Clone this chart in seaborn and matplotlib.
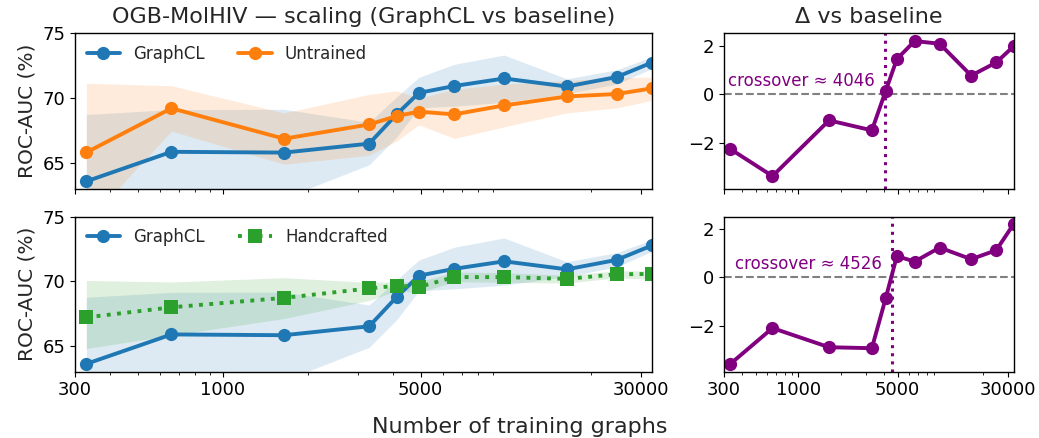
import numpy as np
import matplotlib
matplotlib.use("Agg")
import matplotlib.pyplot as plt
import seaborn as sns
from matplotlib.ticker import NullFormatter

# ---- data ----
n_train = [329, 658, 1645, 3290, 4113, 4935, 6580, 9870, 16450, 24676, 32901]

graphcl = [63.59, 65.87, 65.81, 66.50, 68.76, 70.42, 70.95, 71.53, 70.91, 71.64, 72.76]
graphcl_lo = [58.4, 62.6, 62.3, 64.87, 67.0, 69.25, 69.4, 69.68, 70.35, 71.1, 72.3]
graphcl_hi = [68.75, 69.13, 69.15, 68.15, 70.1, 71.63, 72.62, 73.34, 71.5, 72.2, 73.2]

untrained = [65.82, 69.23, 66.88, 67.98, 68.628, 68.97, 68.76, 69.45, 70.14, 70.33, 70.77]
untrained_lo = [60.4, 67.47, 64.92, 65.6, 66.7, 67.95, 66.9, 67.8, 68.87, 69.26, 69.84]
untrained_hi = [71.16, 70.97, 68.87, 70.3, 70.58, 70.0, 70.7, 71.1, 71.37, 71.6, 71.63]

handcrafted = [67.19, 67.97, 68.70, 69.43, 69.64, 69.55, 70.31, 70.31, 70.17, 70.53, 70.55]
handcrafted_lo = [64.78, 65.8, 67.1, 68.5, 69.25, 69.1, 69.95, 69.9, 69.85, 70.25, 70.15]
handcrafted_hi = [70.05, 69.93, 70.26, 69.9, 69.95, 69.95, 70.7, 70.65, 70.45, 70.8, 70.8]

xticks = [300, 1000, 5000, 30000]
xtick_labels = ["300", "1000", "5000", "30000"]
yticks_left = [65, 70, 75]

C_G = "#1f77b4"
C_U = "#ff7f0e"
C_H = "#2ca02c"
C_D = "purple"

sns.set_style("ticks", {"axes.grid": False})
plt.rcParams["font.family"] = ["DejaVu Sans"]
plt.rcParams["xtick.major.size"] = 3.5
plt.rcParams["ytick.major.size"] = 3.5
plt.rcParams["xtick.minor.size"] = 2
plt.rcParams["axes.edgecolor"] = "black"
plt.rcParams["axes.linewidth"] = 1.0
plt.rcParams["xtick.color"] = "black"
plt.rcParams["ytick.color"] = "black"

fig = plt.figure(figsize=(10.39, 4.38), dpi=100)
L, WL = 75 / 1039, 577 / 1039
R, WR = 724 / 1039, 290 / 1039
top_b, top_h = 1 - 189 / 438, (189 - 33.5) / 438
bot_b, bot_h = 1 - 371.5 / 438, (371.5 - 216.5) / 438

ax_tl = fig.add_axes([L, top_b, WL, top_h])
ax_bl = fig.add_axes([L, bot_b, WL, bot_h], sharex=ax_tl)
ax_tr = fig.add_axes([R, top_b, WR, top_h], sharex=ax_tl)
ax_br = fig.add_axes([R, bot_b, WR, bot_h], sharex=ax_tl, sharey=ax_tr)

x = np.array(n_train, dtype=float)
LW = 2.8
MS = 9.5


def series(ax, y, lo, hi, color, label, marker="o", ls="-"):
    ax.fill_between(x, lo, hi, color=color, alpha=0.15, linewidth=0)
    sns.lineplot(x=x, y=y, ax=ax, color=color, label=label, marker=marker,
                 linestyle=ls, linewidth=LW, markersize=MS,
                 markeredgecolor=color, markeredgewidth=0, clip_on=True)


series(ax_tl, graphcl, graphcl_lo, graphcl_hi, C_G, "GraphCL")
series(ax_tl, untrained, untrained_lo, untrained_hi, C_U, "Untrained")
series(ax_bl, graphcl, graphcl_lo, graphcl_hi, C_G, "GraphCL")
series(ax_bl, handcrafted, handcrafted_lo, handcrafted_hi, C_H, "Handcrafted",
       marker="s", ls=":")

for ax in (ax_tl, ax_bl):
    ax.set_ylim(63, 75)
    ax.set_yticks(yticks_left)
    ax.set_ylabel("ROC-AUC (%)", fontsize=14.5)
    ax.legend(loc="upper left", frameon=False, ncol=2, fontsize=12,
              borderaxespad=0.3)


def crossover(xv, d):
    for i in range(len(d) - 1):
        if d[i] < 0 <= d[i + 1]:
            return xv[i] + (xv[i + 1] - xv[i]) * (-d[i]) / (d[i + 1] - d[i])
    return None


for ax, base in ((ax_tr, untrained), (ax_br, handcrafted)):
    d = np.array(graphcl) - np.array(base)
    ax.axhline(0, color="gray", linestyle="--", linewidth=1.5, zorder=1)
    sns.lineplot(x=x, y=d, ax=ax, color=C_D, marker="o", linewidth=LW,
                 markersize=MS, markeredgecolor=C_D, markeredgewidth=0)
    cx = crossover(x, d)
    ax.axvline(cx, color=C_D, linestyle=":", linewidth=2.2, zorder=1)
    ax.annotate(f"crossover \u2248 {cx:.0f}", xy=(cx, 0.56), xytext=(-7, 0),
                textcoords="offset points", ha="right", va="center",
                color=C_D, fontsize=12)
    ax.set_ylabel("")
    ax.set_yticks([-2, 0, 2])

for ax in (ax_tl, ax_bl, ax_tr, ax_br):
    ax.set_xscale("log")
    ax.set_xticks(xticks, labels=xtick_labels)
    ax.xaxis.set_minor_formatter(NullFormatter())
    ax.set_xlim(300, 32901)
    ax.tick_params(axis="both", which="major", labelsize=13, length=3.5,
                   direction="out")
    ax.tick_params(axis="x", which="minor", length=2, direction="out")
    ax.set_xlabel("")
    for s in ax.spines.values():
        s.set_visible(True)
        s.set_color("black")

for ax in (ax_tl, ax_tr):
    ax.tick_params(axis="x", which="both", labelbottom=False)

ax_tl.set_title("OGB-MolHIV \u2014 scaling (GraphCL vs baseline)", fontsize=16,
                pad=7.5)
ax_tr.set_title("\u0394 vs baseline", fontsize=16, pad=7.5)
fig.text(0.5, 0.012, "Number of training graphs", ha="center", va="baseline",
         fontsize=16)

fig.savefig("out.png", dpi=100)
